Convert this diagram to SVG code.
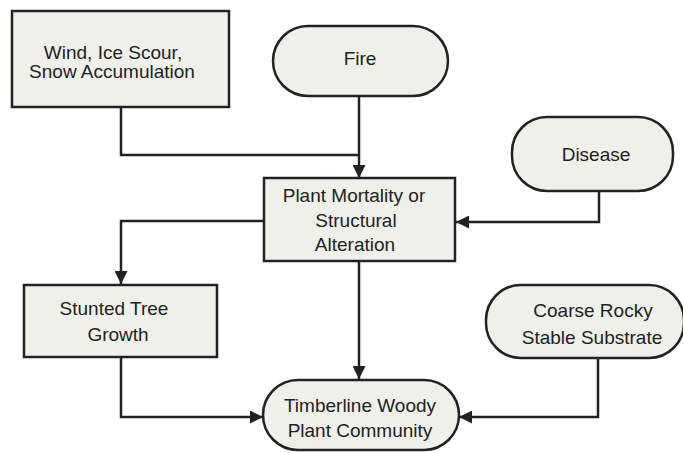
<svg xmlns="http://www.w3.org/2000/svg" width="683" height="453" viewBox="0 0 683 453">
<defs>
<marker id="arr" viewBox="0 0 10 10" refX="10" refY="5" markerWidth="13" markerHeight="13" markerUnits="userSpaceOnUse" orient="auto">
<path d="M0,0 L10,5 L0,10 Z" fill="#222"/>
</marker>
<style>
.n{fill:#eff0ea;stroke:#222;stroke-width:2.5}
.t{font-family:"Liberation Sans",Arial,sans-serif;font-size:19px;fill:#222;text-anchor:middle}
.c{fill:none;stroke:#222;stroke-width:2.5}
</style>
</defs>
<rect width="683" height="453" fill="#fff"/>
<g id="connectors">
<path class="c" d="M121,107 V155 H359"/>
<path class="c" d="M359,96 V178" marker-end="url(#arr)"/>
<path class="c" d="M599,191 V222 H456" marker-end="url(#arr)"/>
<path class="c" d="M264,221 H121 V284" marker-end="url(#arr)"/>
<path class="c" d="M359,261 V379" marker-end="url(#arr)"/>
<path class="c" d="M121,357 V417 H263" marker-end="url(#arr)"/>
<path class="c" d="M598,358 V417 H459" marker-end="url(#arr)"/>
</g>
<g id="wind"><rect class="n" x="12" y="11" width="217" height="96"/><text class="t" x="113" y="59">Wind, Ice Scour,</text><text class="t" x="112" y="78">Snow Accumulation</text></g>
<g id="fire"><rect class="n" x="273" y="26" width="175" height="70" rx="35"/><text class="t" x="360" y="65">Fire</text></g>
<g id="plant"><rect class="n" x="264" y="178" width="191" height="83"/><text class="t" x="354" y="202">Plant Mortality or</text><text class="t" x="356" y="227">Structural</text><text class="t" x="355" y="251">Alteration</text></g>
<g id="disease"><rect class="n" x="512" y="117" width="161" height="74" rx="35"/><text class="t" x="596" y="161">Disease</text></g>
<g id="stunted"><rect class="n" x="24" y="285" width="193" height="72"/><text class="t" x="114" y="315">Stunted Tree</text><text class="t" x="118" y="341">Growth</text></g>
<g id="coarse"><rect class="n" x="486" y="285" width="198" height="73" rx="35"/><text class="t" x="593" y="317">Coarse Rocky</text><text class="t" x="592" y="344">Stable Substrate</text></g>
<g id="timberline"><rect class="n" x="263" y="380" width="196" height="70" rx="35"/><text class="t" x="360" y="412">Timberline Woody</text><text class="t" x="360" y="437">Plant Community</text></g>
</svg>
